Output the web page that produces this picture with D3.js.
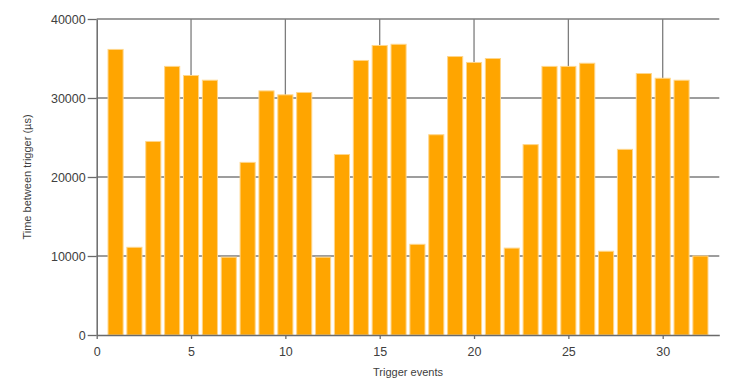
<!DOCTYPE html>
<html>
<head>
<meta charset="utf-8">
<script src="https://cdn.jsdelivr.net/npm/d3@7"></script>
<style>
  html, body { margin: 0; padding: 0; background: #fff; }
  svg { display: block; }
</style>
</head>
<body>
<svg id="chart" width="747" height="391"></svg>
<script>
// ---- data ----
const events = [1,2,3,4,5,6,7,8,9,10,11,12,13,14,15,16,17,18,19,20,21,22,23,24,25,26,27,28,29,30,31,32];
const times = [36150,11100,24500,34000,32850,32250,9850,21850,30900,30400,30700,9850,22850,34750,36650,36800,11480,25350,35250,34500,35000,11000,24100,34000,34000,34400,10600,23500,33100,32500,32250,10000];
const xTicks = [0,5,10,15,20,25,30];
const yTicks = [0,10000,20000,30000,40000];
const xTitle = "Trigger events";
const yTitle = "Time between trigger (µs)";

// ---- layout ----
const svg = d3.select("#chart");
const pLeft = 96.7, pRight = 719.3, pTop = 19, pBottom = 335;
const x = d3.scaleLinear().domain([0, 33]).range([pLeft, pRight]);
const y = d3.scaleLinear().domain([0, 40000]).range([pBottom, pTop]);
const gridColor = "#7d7d7d";
const textColor = "#404040";
const font = "'Liberation Sans', Arial, sans-serif";

// grid
const grid = svg.append("g");
grid.selectAll("line.h").data(yTicks.filter(d => d > 0)).join("line")
  .attr("class", "h")
  .attr("x1", pLeft).attr("x2", pRight)
  .attr("y1", d => y(d)).attr("y2", d => y(d))
  .attr("stroke", gridColor).attr("stroke-width", 1.3);
grid.selectAll("line.v").data(xTicks.filter(d => d > 0)).join("line")
  .attr("class", "v")
  .attr("x1", d => x(d)).attr("x2", d => x(d))
  .attr("y1", pTop).attr("y2", pBottom)
  .attr("stroke", gridColor).attr("stroke-width", 1.3);

// bars
const bw = 0.8;
svg.append("g").selectAll("rect").data(events).join("rect")
  .attr("x", (d) => x(d - bw / 2))
  .attr("width", (d) => x(d + bw / 2) - x(d - bw / 2))
  .attr("y", (d, i) => y(times[i]))
  .attr("height", (d, i) => y(0) - y(times[i]))
  .attr("fill", "#FFA500")
  .attr("stroke", "#FFD68A")
  .attr("stroke-width", 1);

// axes
const xAxis = d3.axisBottom(x).tickValues(xTicks).tickFormat(d3.format("d")).tickSize(4).tickPadding(8.5).tickSizeOuter(0);
const yAxis = d3.axisLeft(y).tickValues(yTicks).tickFormat(d3.format("d")).tickSize(9).tickPadding(2).tickSizeOuter(0);

const gx = svg.append("g").attr("transform", `translate(0,${pBottom})`).call(xAxis);
const gy = svg.append("g").attr("transform", `translate(${pLeft},0)`).call(yAxis);
[gx, gy].forEach(g => {
  g.select(".domain").attr("stroke", "#6a6a6a").attr("stroke-width", 1.5);
  g.selectAll(".tick line").attr("stroke", "#6a6a6a").attr("stroke-width", 1.3);
  g.selectAll(".tick text").attr("fill", textColor).style("font-family", font).style("font-size", "12.5px");
});

// titles
svg.append("text")
  .attr("x", (pLeft + pRight) / 2).attr("y", 376)
  .attr("text-anchor", "middle")
  .attr("fill", textColor)
  .style("font-family", font).style("font-size", "11px")
  .text(xTitle);
svg.append("text")
  .attr("transform", `translate(31,${(pTop + pBottom) / 2}) rotate(-90)`)
  .attr("text-anchor", "middle")
  .attr("fill", textColor)
  .style("font-family", font).style("font-size", "11px")
  .text(yTitle);
</script>
</body>
</html>
